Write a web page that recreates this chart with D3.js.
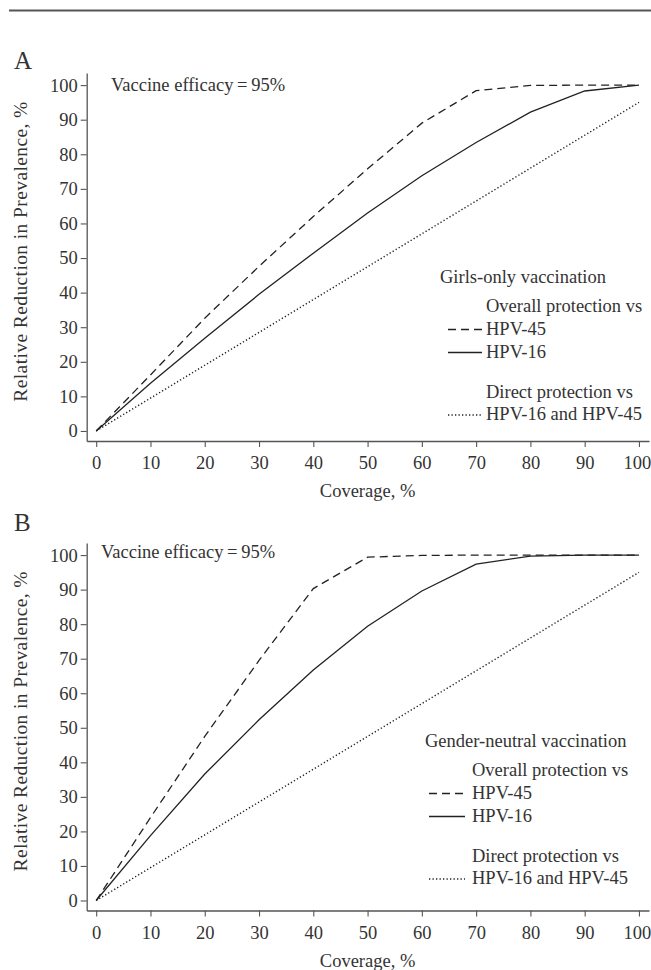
<!DOCTYPE html>
<html>
<head>
<meta charset="utf-8">
<script src="https://cdn.jsdelivr.net/npm/d3@7"></script>
<style>
  body { margin: 0; background: #fff; }
  svg text { font-family: "Liberation Serif", "Times New Roman", serif; fill: #333; }
</style>
</head>
<body>
<div id="chart"></div>
<script>
// Data (coverage %, relative reduction %)
const coverage = [0, 10, 20, 30, 40, 50, 60, 70, 80, 90, 100];
const girlsHpv45 = [0, 16.2, 32.6, 47.6, 62, 75.8, 89, 98.4, 99.9, 100, 100];
const girlsHpv16 = [0, 13.8, 26.8, 39.5, 51.4, 63, 73.8, 83.4, 92.2, 98.3, 100];
const neutralHpv45 = [0, 24, 47.5, 69.5, 90.3, 99.4, 99.9, 100, 100, 100, 100];
const neutralHpv16 = [0, 18.8, 36.6, 52.3, 66.7, 79.4, 89.6, 97.4, 99.7, 100, 100];
const directBoth = [0, 9.5, 19, 28.5, 38, 47.5, 57, 66.5, 76, 85.5, 95];

const xTicks = [0, 10, 20, 30, 40, 50, 60, 70, 80, 90, 100];
const yTicks = [0, 10, 20, 30, 40, 50, 60, 70, 80, 90, 100];

const panelLetters = ["A", "B"];
const legendTitles = ["Girls-only vaccination", "Gender-neutral vaccination"];
const legendHeads = ["Overall protection vs", "Direct protection vs"];
const seriesNames = ["HPV-45", "HPV-16", "HPV-16 and HPV-45"];
const efficacyText = "Vaccine efficacy\u2009=\u200995%";
const xTitle = "Coverage, %";
const yTitle = "Relative Reduction in Prevalence, %";

const width = 651, height = 970;
const font = "18.5px";

const svg = d3.select("#chart").append("svg")
  .attr("width", width)
  .attr("height", height);

// rule across the top
svg.append("line")
  .attr("x1", 9).attr("x2", 651)
  .attr("y1", 10.5).attr("y2", 10.5)
  .attr("stroke", "#555").attr("stroke-width", 1.8);

const x = d3.scaleLinear().domain([-1.75, 101.85]).range([86.7, 649]);

const panels = [
  { letterY: 69, top: 73, bottom: 441, series: [girlsHpv45, girlsHpv16, directBoth],
    effX: 111, effY: 91, legX: 440, legY: 283, sample: [448, 482], textX: 486 },
  { letterY: 531, top: 543, bottom: 910.5, series: [neutralHpv45, neutralHpv16, directBoth],
    effX: 101, effY: 558, legX: 425, legY: 747, sample: [429, 465], textX: 472 }
];

const dashes = ["8,5", null, "1.3,2.2"];

panels.forEach((p, i) => {
  const y = d3.scaleLinear().domain([-2.9, 103.5]).range([p.bottom, p.top]);
  const g = svg.append("g");

  g.append("text")
    .attr("x", 14).attr("y", p.letterY)
    .style("font-size", "25px")
    .text(panelLetters[i]);

  // axes
  const ya = g.append("g")
    .attr("transform", `translate(${x.range()[0]},0)`)
    .call(d3.axisLeft(y).tickValues(yTicks).tickSize(6).tickPadding(3).tickSizeOuter(0));
  const xa = g.append("g")
    .attr("transform", `translate(0,${p.bottom})`)
    .call(d3.axisBottom(x).tickValues(xTicks).tickSize(6).tickPadding(9).tickSizeOuter(0));
  [ya, xa].forEach(a => {
    a.attr("color", "#555");
    a.select(".domain").attr("stroke-width", 1.3);
    a.selectAll(".tick line").attr("stroke-width", 1.1);
    a.selectAll("text")
      .style("font-size", font)
      .style("font-family", '"Liberation Serif", serif')
      .attr("fill", "#333");
  });
  // keep the last x label inside the frame
  xa.selectAll(".tick text").filter(d => d === 100).attr("dx", -2);

  // axis titles
  g.append("text")
    .attr("text-anchor", "middle")
    .attr("x", x(50)).attr("y", p.bottom + 56)
    .style("font-size", font)
    .text(xTitle);
  g.append("text")
    .attr("text-anchor", "middle")
    .attr("transform", `translate(27,${y(51.9)}) rotate(-90)`)
    .style("font-size", "19.5px")
    .style("letter-spacing", "0.4px")
    .text(yTitle);

  g.append("text")
    .attr("x", p.effX).attr("y", p.effY)
    .style("font-size", font)
    .text(efficacyText);

  // curves
  const line = d3.line()
    .x((d, k) => x(coverage[k]))
    .y(d => y(d));
  p.series.forEach((s, k) => {
    g.append("path")
      .datum(s)
      .attr("d", line)
      .attr("fill", "none")
      .attr("stroke", "#222")
      .attr("stroke-width", k === 2 ? 1.4 : 1.3)
      .attr("stroke-dasharray", dashes[k]);
  });

  // legend
  const rows = [p.legY + 51.5, p.legY + 74.5, p.legY + 137];
  g.append("text").attr("x", p.legX).attr("y", p.legY).style("font-size", font).text(legendTitles[i]);
  g.append("text").attr("x", p.textX).attr("y", p.legY + 29).style("font-size", font).text(legendHeads[0]);
  g.append("text").attr("x", p.textX).attr("y", p.legY + 114.5).style("font-size", font).text(legendHeads[1]);
  seriesNames.forEach((name, k) => {
    g.append("line")
      .attr("x1", p.sample[0]).attr("x2", p.sample[1])
      .attr("y1", rows[k] - 5).attr("y2", rows[k] - 5)
      .attr("stroke", "#222")
      .attr("stroke-width", k === 2 ? 1.4 : 1.3)
      .attr("stroke-dasharray", dashes[k]);
    g.append("text").attr("x", p.textX).attr("y", rows[k]).style("font-size", font).text(name);
  });
});
</script>
</body>
</html>
